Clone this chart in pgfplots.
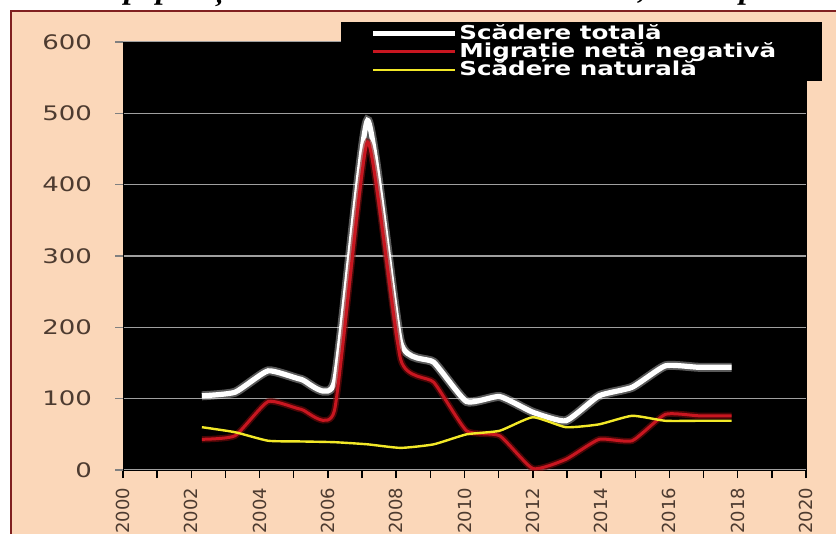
\documentclass[border=0pt]{standalone}
\usepackage{fontspec}
\usepackage{pgfplots}
\pgfplotsset{compat=1.18}
\setmainfont{DejaVu Sans}
\newfontfamily\tickfont{DejaVu Sans}[FakeStretch=1.3]
\newfontfamily\legfont{DejaVu Sans Bold}[FakeStretch=1.28]
\newfontfamily\titlefont{Liberation Serif}
\definecolor{peach}{RGB}{251,215,185}
\definecolor{framered}{RGB}{128,32,32}
\definecolor{ticktext}{RGB}{77,59,48}
\definecolor{linered}{RGB}{200,22,32}
\definecolor{glowred}{RGB}{120,10,10}
\definecolor{lineyellow}{RGB}{242,232,40}

\begin{document}
\begin{tikzpicture}
\useasboundingbox (0,0) rectangle (418pt,-267pt);
\fill[peach] (5.5pt,-5.5pt) rectangle (420pt,-270pt);
\draw[framered, line width=1.3pt] (5.5pt,-270pt) -- (5.5pt,-5.5pt) -- (420pt,-5.5pt);
\node[anchor=base west, inner sep=0pt, font=\titlefont\bfseries\itshape\fontsize{16}{16}\selectfont]
  at (62pt,0.6pt) {populației Moldovei în anii 2002--2018, în mii persoane};
\begin{axis}[
    at={(61.5pt,-235pt)}, anchor=south west,
    scale only axis, width=341.5pt, height=214pt,
    xmin=2000, xmax=2020, ymin=0, ymax=600,
    axis background/.style={fill=black},
    axis line style={black},
    xtick={2000,2002,...,2020}, minor xtick={2001,2003,...,2019},
    ytick={0,100,...,600},
    xtick pos=bottom, ytick pos=left, tick align=outside,
    major tick length=4pt, minor tick length=4pt,
    x tick style={black, line width=0.7pt}, minor x tick style={black, line width=0.7pt},
    y tick style={gray, line width=0.6pt},
    ymajorgrids, grid style={gray!75, line width=0.6pt},
    /pgf/number format/assume math mode=true,
    /pgf/number format/1000 sep={},
    tick label style={font=\tickfont\fontsize{10}{10}\selectfont, text=ticktext},
    xticklabel style={yshift=-1.5pt, rotate=90, anchor=east, font=\setmainfont{DejaVu Sans}\fontsize{9}{9}\selectfont},
    yticklabel style={anchor=east, xshift=-8pt},
    legend style={at={(0.318,1.047)}, anchor=north west, fill=black, draw=none,
        text=white, font=\legfont\fontsize{9.6}{9.6}\selectfont,
        inner xsep=15pt, inner ysep=0.5pt, row sep=-1.6pt, nodes={inner sep=0.8pt}},
    legend cell align=left,
    legend image code/.code={\draw[#1] (0pt,0pt) -- (41pt,0pt);},
]
% glow copies
\addplot[white, opacity=0.35, line width=4.5pt, smooth, tension=0.3, forget plot] coordinates {
(2002.31,104) (2003.28,109) (2004.25,139) (2005.22,127) (2006.19,123) (2007.16,490)
(2008.13,179) (2009.10,151) (2010.06,96) (2011.03,103) (2012.00,81) (2012.97,69)
(2013.94,104) (2014.91,116) (2015.88,146) (2016.85,144) (2017.82,144)};
\addplot[white, line width=2.6pt, smooth, tension=0.3] coordinates {
(2002.31,104) (2003.28,109) (2004.25,139) (2005.22,127) (2006.19,123) (2007.16,490)
(2008.13,179) (2009.10,151) (2010.06,96) (2011.03,103) (2012.00,81) (2012.97,69)
(2013.94,104) (2014.91,116) (2015.88,146) (2016.85,144) (2017.82,144)};
\addlegendentry{Scădere totală}
\addplot[glowred, opacity=0.6, line width=3.2pt, smooth, tension=0.3, forget plot] coordinates {
(2002.31,43) (2003.28,48) (2004.25,96) (2005.22,85) (2006.19,83) (2007.16,460)
(2008.13,155) (2009.10,123) (2010.06,55) (2011.03,48) (2012.00,2) (2012.97,15)
(2013.94,43) (2014.91,41) (2015.88,78) (2016.85,76) (2017.82,76)};
\addplot[linered, line width=1.5pt, smooth, tension=0.3] coordinates {
(2002.31,43) (2003.28,48) (2004.25,96) (2005.22,85) (2006.19,83) (2007.16,460)
(2008.13,155) (2009.10,123) (2010.06,55) (2011.03,48) (2012.00,2) (2012.97,15)
(2013.94,43) (2014.91,41) (2015.88,78) (2016.85,76) (2017.82,76)};
\addlegendentry{Migrație netă negativă\kern7pt}
\addplot[lineyellow, line width=1.2pt, smooth, tension=0.3] coordinates {
(2002.31,60) (2003.28,53) (2004.25,41) (2005.22,40) (2006.19,39) (2007.16,36)
(2008.13,31) (2009.10,36) (2010.06,50) (2011.03,55) (2012.00,74) (2012.97,60)
(2013.94,64) (2014.91,76) (2015.88,69) (2016.85,69) (2017.82,69)};
\addlegendentry{Scădere naturală}
\end{axis}
\end{tikzpicture}
\end{document}
